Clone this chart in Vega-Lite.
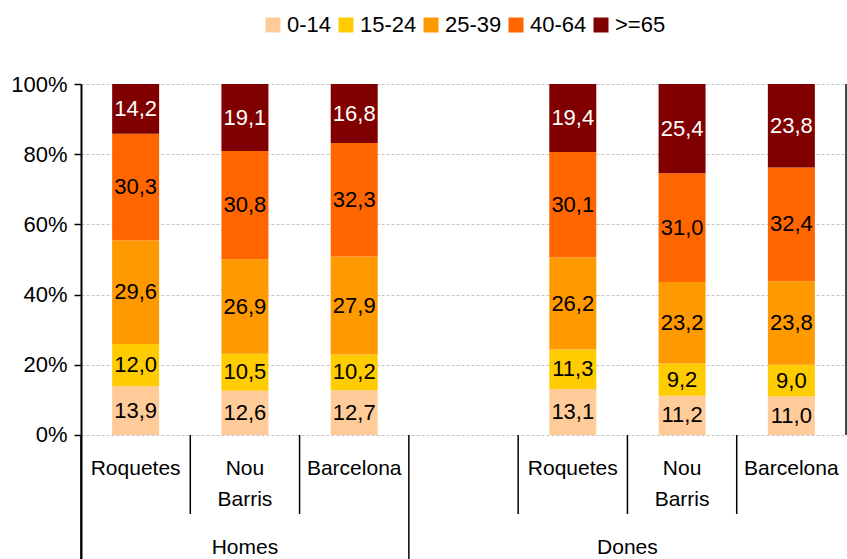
{
  "$schema": "https://vega.github.io/schema/vega-lite/v6.json",
  "width": 765,
  "height": 475,
  "autosize": {"type": "none"},
  "padding": {"left": 81, "top": 84, "right": 1, "bottom": 0},
  "background": "white",
  "config": {
    "view": {"stroke": null},
    "font": "Liberation Sans",
    "locale": {"number": {"decimal": ",", "thousands": ".", "grouping": [3], "currency": ["", " €"]}},
    "legend": {"layout": {"top": {"anchor": "middle"}}}
  },
  "datasets": {
    "bars": [
      {"slot": "Homes|Roquetes", "age": "0-14", "v": 13.9},
      {"slot": "Homes|Roquetes", "age": "15-24", "v": 12.0},
      {"slot": "Homes|Roquetes", "age": "25-39", "v": 29.6},
      {"slot": "Homes|Roquetes", "age": "40-64", "v": 30.3},
      {"slot": "Homes|Roquetes", "age": ">=65", "v": 14.2},
      {"slot": "Homes|Nou Barris", "age": "0-14", "v": 12.6},
      {"slot": "Homes|Nou Barris", "age": "15-24", "v": 10.5},
      {"slot": "Homes|Nou Barris", "age": "25-39", "v": 26.9},
      {"slot": "Homes|Nou Barris", "age": "40-64", "v": 30.8},
      {"slot": "Homes|Nou Barris", "age": ">=65", "v": 19.1},
      {"slot": "Homes|Barcelona", "age": "0-14", "v": 12.7},
      {"slot": "Homes|Barcelona", "age": "15-24", "v": 10.2},
      {"slot": "Homes|Barcelona", "age": "25-39", "v": 27.9},
      {"slot": "Homes|Barcelona", "age": "40-64", "v": 32.3},
      {"slot": "Homes|Barcelona", "age": ">=65", "v": 16.8},
      {"slot": "Dones|Roquetes", "age": "0-14", "v": 13.1},
      {"slot": "Dones|Roquetes", "age": "15-24", "v": 11.3},
      {"slot": "Dones|Roquetes", "age": "25-39", "v": 26.2},
      {"slot": "Dones|Roquetes", "age": "40-64", "v": 30.1},
      {"slot": "Dones|Roquetes", "age": ">=65", "v": 19.4},
      {"slot": "Dones|Nou Barris", "age": "0-14", "v": 11.2},
      {"slot": "Dones|Nou Barris", "age": "15-24", "v": 9.2},
      {"slot": "Dones|Nou Barris", "age": "25-39", "v": 23.2},
      {"slot": "Dones|Nou Barris", "age": "40-64", "v": 31.0},
      {"slot": "Dones|Nou Barris", "age": ">=65", "v": 25.4},
      {"slot": "Dones|Barcelona", "age": "0-14", "v": 11.0},
      {"slot": "Dones|Barcelona", "age": "15-24", "v": 9.0},
      {"slot": "Dones|Barcelona", "age": "25-39", "v": 23.8},
      {"slot": "Dones|Barcelona", "age": "40-64", "v": 32.4},
      {"slot": "Dones|Barcelona", "age": ">=65", "v": 23.8}
    ],
    "places": [
      {"slot": "Homes|Roquetes", "label": "Roquetes"},
      {"slot": "Homes|Nou Barris", "label": "Nou\nBarris"},
      {"slot": "Homes|Barcelona", "label": "Barcelona"},
      {"slot": "Dones|Roquetes", "label": "Roquetes"},
      {"slot": "Dones|Nou Barris", "label": "Nou\nBarris"},
      {"slot": "Dones|Barcelona", "label": "Barcelona"}
    ],
    "longsep": [
      {"slot": "Homes|Roquetes"},
      {"slot": "gap"}
    ],
    "shortsep": [
      {"slot": "Homes|Nou Barris"},
      {"slot": "Homes|Barcelona"},
      {"slot": "Dones|Roquetes"},
      {"slot": "Dones|Nou Barris"},
      {"slot": "Dones|Barcelona"}
    ]
  },
  "encoding": {
    "x": {
      "field": "slot",
      "type": "nominal",
      "axis": null,
      "scale": {
        "domain": ["Homes|Roquetes", "Homes|Nou Barris", "Homes|Barcelona", "gap", "Dones|Roquetes", "Dones|Nou Barris", "Dones|Barcelona"],
        "paddingInner": 0,
        "paddingOuter": 0
      }
    }
  },
  "layer": [
    {
      "data": {"name": "bars"},
      "mark": {"type": "bar", "width": {"band": 0.43}},
      "encoding": {
        "y": {
          "field": "v",
          "type": "quantitative",
          "stack": "normalize",
          "scale": {"domain": [-0.3533, 1], "nice": false, "zero": false},
          "axis": {
            "title": null,
            "values": [0, 0.2, 0.4, 0.6, 0.8, 1],
            "format": ".0%",
            "labelFontSize": 22,
            "labelColor": "black",
            "labelPadding": 7,
            "labelFont": "Liberation Sans",
            "tickSize": 7,
            "tickColor": "black",
            "tickWidth": 1.5,
            "domainColor": "black",
            "domainWidth": 2,
            "grid": true,
            "gridColor": "#c4c4c4",
            "gridDash": [3, 2],
            "gridWidth": 1
          }
        },
        "color": {
          "field": "age",
          "type": "nominal",
          "scale": {
            "domain": ["0-14", "15-24", "25-39", "40-64", ">=65"],
            "range": ["#FFCC99", "#FFCC00", "#FF9900", "#FF6600", "#800000"]
          },
          "legend": {
            "title": null,
            "orient": "top",
            "direction": "horizontal",
            "offset": 48,
            "padding": 0,
            "symbolType": "square",
            "symbolSize": 225,
            "symbolStrokeWidth": 0,
            "labelFontSize": 22,
            "labelColor": "black",
            "labelFont": "Liberation Sans",
            "labelOffset": 3,
            "columnPadding": 3
          }
        },
        "order": {"field": "age", "sort": "ascending"}
      }
    },
    {
      "data": {"name": "bars"},
      "mark": {"type": "text", "fontSize": 22, "font": "Liberation Sans", "baseline": "middle", "align": "center"},
      "encoding": {
        "y": {"field": "v", "type": "quantitative", "stack": "normalize", "bandPosition": 0.5},
        "text": {"field": "v", "type": "quantitative", "format": ".1f"},
        "order": {"field": "age", "sort": "ascending"},
        "color": {"condition": {"test": "datum.age === '>=65'", "value": "white"}, "value": "black"}
      }
    },
    {
      "mark": {"type": "rule", "color": "#2f4f4f", "strokeWidth": 2},
      "encoding": {"y": {"datum": 1, "type": "quantitative"}}
    },
    {
      "data": {"values": [{"slot": "Dones|Barcelona"}]},
      "mark": {"type": "rule", "color": "#2f4f4f", "strokeWidth": 2},
      "encoding": {
        "x": {"field": "slot", "type": "nominal", "bandPosition": 1},
        "y": {"datum": 1, "type": "quantitative"},
        "y2": {"datum": 0}
      }
    },
    {
      "mark": {"type": "rule", "color": "black", "strokeWidth": 2},
      "encoding": {"y": {"datum": 0, "type": "quantitative"}}
    },
    {
      "data": {"name": "longsep"},
      "mark": {"type": "rule", "color": "black", "strokeWidth": 1.5},
      "encoding": {
        "x": {"field": "slot", "type": "nominal", "bandPosition": 0},
        "y": {"datum": 0, "type": "quantitative"},
        "y2": {"datum": -0.3533}
      }
    },
    {
      "data": {"name": "shortsep"},
      "mark": {"type": "rule", "color": "black", "strokeWidth": 1.5},
      "encoding": {
        "x": {"field": "slot", "type": "nominal", "bandPosition": 0},
        "y": {"datum": 0, "type": "quantitative"},
        "y2": {"datum": -0.225}
      }
    },
    {
      "data": {"name": "places"},
      "mark": {"type": "text", "fontSize": 21, "font": "Liberation Sans", "baseline": "top", "align": "center", "lineBreak": "\n", "lineHeight": 31, "color": "black"},
      "encoding": {
        "x": {"field": "slot", "type": "nominal", "bandPosition": 0.5},
        "y": {"datum": -0.0655, "type": "quantitative"},
        "text": {"field": "label"}
      }
    },
    {
      "data": {"values": [{"slot": "Homes|Nou Barris", "label": "Homes"}]},
      "mark": {"type": "text", "fontSize": 21, "font": "Liberation Sans", "baseline": "top", "align": "center", "color": "black"},
      "encoding": {
        "x": {"field": "slot", "type": "nominal", "bandPosition": 0.5},
        "y": {"datum": -0.2906, "type": "quantitative"},
        "text": {"field": "label"}
      }
    },
    {
      "data": {"values": [{"slot": "Dones|Nou Barris", "label": "Dones"}]},
      "mark": {"type": "text", "fontSize": 21, "font": "Liberation Sans", "baseline": "top", "align": "center", "color": "black"},
      "encoding": {
        "x": {"field": "slot", "type": "nominal", "bandPosition": 0},
        "y": {"datum": -0.2906, "type": "quantitative"},
        "text": {"field": "label"}
      }
    }
  ]
}
